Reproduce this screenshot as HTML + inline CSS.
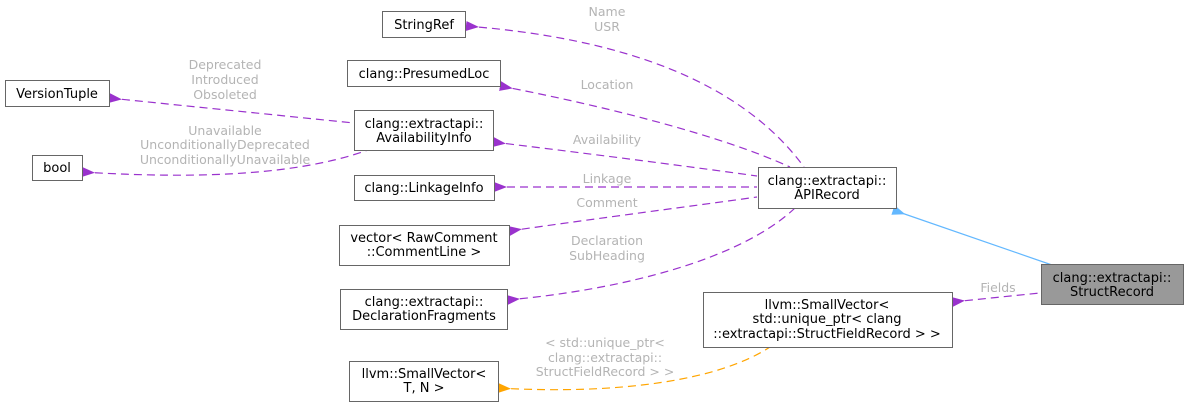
<!DOCTYPE html>
<html><head><meta charset="utf-8"><style>
html,body{margin:0;padding:0;background:#fff;}
svg{display:block;}
text{font-family:"DejaVu Sans","Liberation Sans",sans-serif;font-size:13px;}
.n{fill:#000;text-anchor:middle;}
.l{fill:#b4b4b4;text-anchor:middle;font-size:12.5px;}
rect{fill:#fff;stroke:#666;stroke-width:1;}
.e{fill:none;stroke:#9a32cd;stroke-dasharray:8,5;stroke-width:1.2;}
</style></head><body>
<svg width="1185" height="407" viewBox="0 0 1185 407" xmlns="http://www.w3.org/2000/svg">
<defs>
<marker id="p" markerWidth="13" markerHeight="10" refX="13" refY="5" orient="auto-start-reverse" markerUnits="userSpaceOnUse"><path d="M0,0 L13,5 L0,10 z" fill="#9a32cd" transform="rotate(180 6.5 5)"/></marker>
<marker id="o" markerWidth="13" markerHeight="10" refX="13" refY="5" orient="auto-start-reverse" markerUnits="userSpaceOnUse"><path d="M0,0 L13,5 L0,10 z" fill="#ffa500" transform="rotate(180 6.5 5)"/></marker>
<marker id="b" markerWidth="13" markerHeight="10" refX="13" refY="5" orient="auto-start-reverse" markerUnits="userSpaceOnUse"><path d="M0,0 L13,5 L0,10 z" fill="#63b8ff" transform="rotate(180 6.5 5)"/></marker>
</defs>

<path class="e" marker-start="url(#p)" d="M466,26 C620,38 740,80 804,167"/>
<path class="e" marker-start="url(#p)" d="M500,86 C600,105 720,135 790,167"/>
<path class="e" marker-start="url(#p)" d="M493,142 C600,155 700,168 757,176"/>
<path class="e" marker-start="url(#p)" d="M494,187 L757,187"/>
<path class="e" marker-start="url(#p)" d="M509,231 C600,218 700,205 757,197"/>
<path class="e" marker-start="url(#p)" d="M507,300 C620,290 740,260 795,208"/>
<path class="e" marker-start="url(#p)" d="M109,98 L354,123"/>
<path class="e" marker-start="url(#p)" d="M82,172 C180,178 290,178 368,150"/>
<path class="e" marker-start="url(#p)" d="M952,302 L1040,293"/>
<path class="e" style="stroke:#ffa500" marker-start="url(#o)" d="M498,388 C620,395 720,380 770,347"/>
<path fill="none" stroke="#63b8ff" stroke-width="1.2" marker-start="url(#b)" d="M893,210 L1052,265"/>

<text class="l" x="607" y="16">Name</text>
<text class="l" x="607" y="31">USR</text>
<text class="l" x="607" y="89">Location</text>
<text class="l" x="607" y="144">Availability</text>
<text class="l" x="607" y="183">Linkage</text>
<text class="l" x="607" y="207">Comment</text>
<text class="l" x="607" y="245">Declaration</text>
<text class="l" x="607" y="260">SubHeading</text>
<text class="l" x="225" y="69">Deprecated</text>
<text class="l" x="225" y="84">Introduced</text>
<text class="l" x="225" y="99">Obsoleted</text>
<text class="l" x="225" y="135">Unavailable</text>
<text class="l" x="225" y="149">UnconditionallyDeprecated</text>
<text class="l" x="225" y="164">UnconditionallyUnavailable</text>
<text class="l" x="998" y="292">Fields</text>
<text class="l" x="605" y="347">&lt; std::unique_ptr&lt;</text>
<text class="l" x="605" y="362">clang::extractapi::</text>
<text class="l" x="605" y="376">StructFieldRecord &gt; &gt;</text>

<rect x="382.5" y="11.5" width="83" height="26"/><text class="n" x="424" y="29">StringRef</text>
<rect x="347.5" y="60.5" width="153" height="26"/><text class="n" x="424" y="78">clang::PresumedLoc</text>
<rect x="5.5" y="80.5" width="104" height="26"/><text class="n" x="57" y="98">VersionTuple</text>
<rect x="354.5" y="110.5" width="139" height="40"/><text class="n" x="424" y="128">clang::extractapi::</text><text class="n" x="424" y="142">AvailabilityInfo</text>
<rect x="32.5" y="155.5" width="50" height="25"/><text class="n" x="57" y="172">bool</text>
<rect x="354.5" y="175.5" width="140" height="25"/><text class="n" x="424" y="192">clang::LinkageInfo</text>
<rect x="339.5" y="225.5" width="170" height="40"/><text class="n" x="424" y="242">vector&lt; RawComment</text><text class="n" x="424" y="256">::CommentLine &gt;</text>
<rect x="340.5" y="289.5" width="167" height="40"/><text class="n" x="424" y="306">clang::extractapi::</text><text class="n" x="424" y="320">DeclarationFragments</text>
<rect x="349.5" y="361.5" width="149" height="40"/><text class="n" x="424" y="378">llvm::SmallVector&lt;</text><text class="n" x="424" y="392">T, N &gt;</text>
<rect x="758.5" y="167.5" width="138" height="41"/><text class="n" x="827" y="185">clang::extractapi::</text><text class="n" x="827" y="199">APIRecord</text>
<rect x="1041.5" y="264.5" width="142" height="40" style="fill:#999"/><text class="n" x="1112" y="282">clang::extractapi::</text><text class="n" x="1112" y="296">StructRecord</text>
<rect x="703.5" y="292.5" width="249" height="55"/><text class="n" x="827" y="309">llvm::SmallVector&lt;</text><text class="n" x="827" y="323">std::unique_ptr&lt; clang</text><text class="n" x="827" y="338">::extractapi::StructFieldRecord &gt; &gt;</text>
</svg>
</body></html>
